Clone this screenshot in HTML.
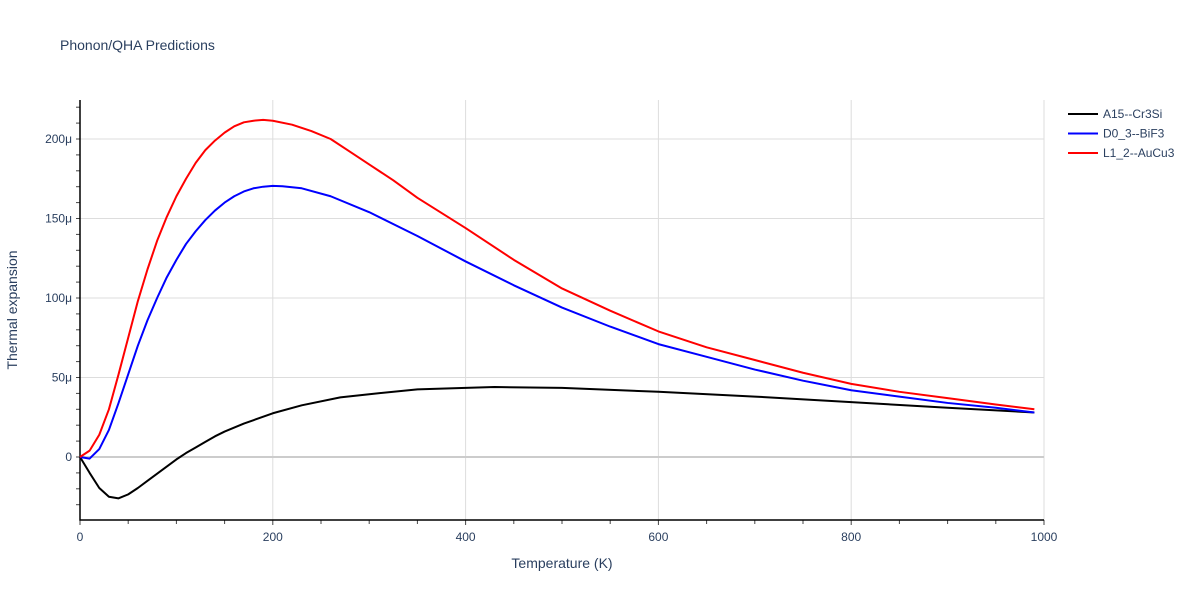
<!DOCTYPE html>
<html><head><meta charset="utf-8"><style>
body{margin:0;background:#fff;font-family:"Liberation Sans",sans-serif;}
svg text{font-family:"Liberation Sans",sans-serif;fill:#2a3f5f;}
</style></head><body>
<svg id="chart" width="1200" height="600" xmlns="http://www.w3.org/2000/svg">
<rect width="1200" height="600" fill="#fff"/>
<text x="60" y="50" font-size="14">Phonon/QHA Predictions</text>
<g id="grid"></g><g id="axes"></g><g id="series"></g><g id="legend"></g>
<text x="562" y="568" font-size="14" text-anchor="middle">Temperature (K)</text>
<text transform="translate(17,310) rotate(-90)" font-size="14" text-anchor="middle">Thermal expansion</text>
</svg>
<script>
const xTicks=[0,200,400,600,800,1000];
const yTicks=[0,50,100,150,200];
const yTickLabels=["0","50μ","100μ","150μ","200μ"];
const seriesNames=["A15--Cr3Si","D0_3--BiF3","L1_2--AuCu3"];
const seriesColors=["#000000","#0000ff","#ff0000"];
const tBlack=[0,10,20,30,40,50,60,70,80,90,100,110,120,130,140,150,170,200,230,270,300,350,400,430,500,600,700,800,900,990];
const vBlack=[0,-10,-19.5,-25,-26,-23.5,-19.5,-15,-10.5,-6,-1.5,2.5,6,9.5,13,16,21,27.5,32.5,37.5,39.5,42.5,43.5,44,43.5,41,38,34.5,31,28];
const tBlue=[0,10,20,30,40,50,60,70,80,90,100,110,120,130,140,150,160,170,180,190,200,210,230,260,300,350,400,450,500,550,600,650,700,750,800,850,900,950,990];
const vBlue=[0,-1,5,17,34,52,70,86,100,113,124,134,142,149,155,160,164,167,169,170,170.5,170.3,169,164,154,139,123,108,94,82,71,63,55,48,42,38,34,31,28];
const tRed=[0,10,20,30,40,50,60,70,80,90,100,110,120,130,140,150,160,170,180,190,200,220,240,260,280,300,325,350,400,450,500,550,600,650,700,750,800,850,900,950,990];
const vRed=[0,4,14,30,52,75,98,118,136,151,164,175,185,193,199,204,208,210.5,211.5,212,211.5,209,205,200,192,184,174,163,144,124,106,92,79,69,61,53,46,41,37,33,30];
const X0=80,X1=1044,Y0=457,YS=1.59;
const xs=t=>X0+(X1-X0)*t/1000, ys=v=>Y0-v*YS;
const NS="http://www.w3.org/2000/svg";
function mk(p,tag,a){const e=document.createElementNS(NS,tag);for(const k in a)e.setAttribute(k,a[k]);p.appendChild(e);return e;}
const grid=document.getElementById('grid'),axes=document.getElementById('axes'),ser=document.getElementById('series'),leg=document.getElementById('legend');
xTicks.forEach(t=>{if(t>0){const l=mk(grid,'line',{x1:xs(t),x2:xs(t),y1:100,y2:520,stroke:'#ddd'});

}
const tx=mk(axes,'text',{x:xs(t),y:541,'font-size':12,'text-anchor':'middle'});tx.textContent=t;

});
yTicks.forEach((v,i)=>{const l=mk(grid,'line',{x1:80,x2:1044,y1:ys(v),y2:ys(v),stroke:v===0?'#ccc':'#ddd','stroke-width':v===0?2:1});


const tx=mk(axes,'text',{x:72,y:ys(v)+4,'font-size':12,'text-anchor':'end'});tx.textContent=yTickLabels[i];

});
for(let t=0;t<=1000;t+=50)mk(axes,'line',{x1:xs(t),x2:xs(t),y1:520,y2:t%200===0?525:524,stroke:'#444'});
for(let v=-30;v<=220;v+=10)mk(axes,'line',{x1:80,x2:76,y1:ys(v),y2:ys(v),stroke:'#444'});
const ax=mk(axes,'path',{d:'M80,100V520H1044',fill:'none',stroke:'#000','stroke-width':1.5});


const data=[[tBlack,vBlack],[tBlue,vBlue],[tRed,vRed]];
data.forEach((d,i)=>{const p=mk(ser,'polyline',{points:d[0].map((t,j)=>xs(t)+','+ys(d[1][j])).join(' '),fill:'none',stroke:seriesColors[i],'stroke-width':2,'stroke-linejoin':'round'});


const g=mk(leg,'g',{});


const y=114+i*19.5;
mk(g,'line',{x1:1068,x2:1098,y1:y,y2:y,stroke:seriesColors[i],'stroke-width':2});
const tx=mk(g,'text',{x:1103,y:y+4,'font-size':12});tx.textContent=seriesNames[i];});
</script>
</body></html>
